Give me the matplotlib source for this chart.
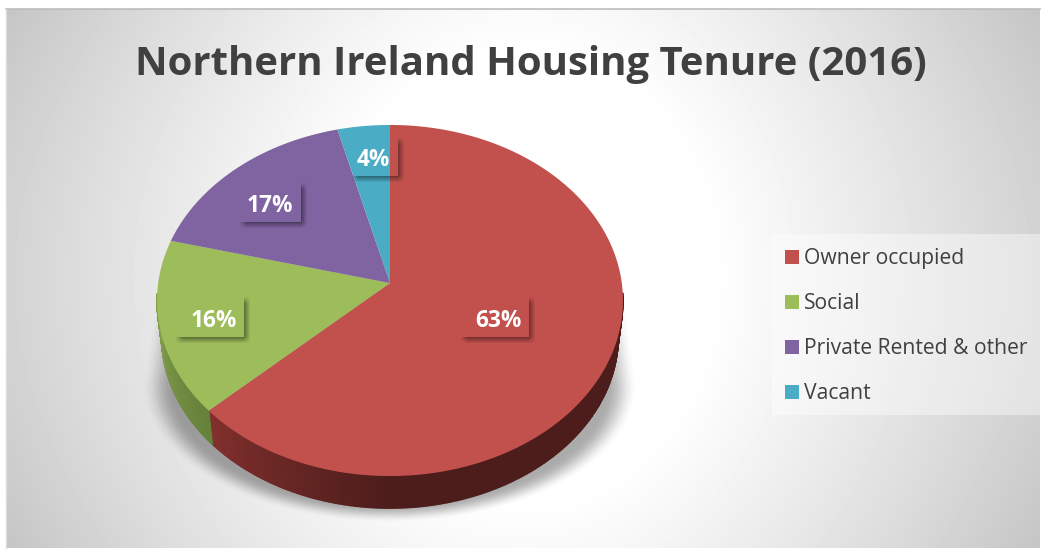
import numpy as np
import matplotlib
matplotlib.use('Agg')
import matplotlib.pyplot as plt
from matplotlib.collections import PolyCollection

# data
categories = ['Owner occupied', 'Social', 'Private Rented & other', 'Vacant']
shares = [63, 16, 17, 4]
labels = ['63%', '16%', '17%', '4%']
colors = ['#c2514e', '#9dbc5a', '#8064a2', '#4bacc6']
side_light = ['#82302d', '#86a04c', '#5f4a7a', '#35808f']
side_dark = ['#4c1d1b', '#64803a', '#4a3a60', '#2a6a78']

W, H = 1046, 550
plt.rcParams['font.family'] = ['Open Sans', 'DejaVu Sans']

fig = plt.figure(figsize=(W / 100, H / 100), dpi=100)
ax = fig.add_axes([0, 0, 1, 1])
ax.axis('off')

# background gradient
yy, xx = np.mgrid[0:H, 0:W] + 0.5
dx = np.abs(xx - 523)
dy = np.abs(yy - 278)
r = np.hypot(dx, dy * 0.85)
g = np.clip((r - 190) / 327, 0, None) * 0.76 + 0.13 * (dx / 517 * dy / 270) ** 2
grey = np.full((H, W), 255.0)
inside = (xx > 6) & (xx < 1040) & (yy > 9) & (yy < 548)
grey[inside] = (255 - 58 * np.clip(g, 0, 1))[inside]
ax.imshow(grey, cmap='gray', vmin=0, vmax=255, extent=(0, W, H, 0), zorder=0, aspect='auto')
ax.plot([6, 1040], [8.5, 8.5], color='#bcbcbc', lw=1.2, zorder=1)
ax.plot([5.5, 5.5], [9, 548], color='#dcdcdc', lw=1, zorder=1)

# soft shadow under the pie
hw = 248 - np.clip(385 - yy, 0, None) * 0.14
d = np.where(yy < 385, np.abs(xx - 390) / hw, np.hypot((xx - 390) / 248, (yy - 385) / 138))
a = np.clip((1.0 - d) / 0.13, 0, 1)
a = a * a * (3 - 2 * a) * np.clip((yy - 230) / 70, 0, 1)
a[yy > 522] = 0
shadow = np.zeros((H, W, 4))
shadow[..., 3] = a * 0.33
ax.imshow(shadow, extent=(0, W, H, 0), zorder=2, aspect='auto')

# tilted disc: perspective projection of a circle
cx, cy, A, B, k = 390, 283, 231.8, 173.8, 0.0997


def top_xy(t):
    u, v = np.sin(t), -np.cos(t)
    w = 1 - k * v
    return cx + A * u / w, cy + B * v / w


def bottom_xy(t):
    x, y = top_xy(t)
    return cx + (x - cx) * 0.98, cy + (y - cy) * 0.98 + 36


edges = np.cumsum([0] + shares) / sum(shares) * 2 * np.pi

# side wall
for i in range(len(shares)):
    t = np.linspace(edges[i], edges[i + 1], 300)
    polys, cols = [], []
    c1 = np.array(matplotlib.colors.to_rgb(side_light[i]))
    c2 = np.array(matplotlib.colors.to_rgb(side_dark[i]))
    for t0, t1 in zip(t[:-1], t[1:]):
        tm = (t0 + t1) / 2
        if not (np.pi * 0.52 < tm < np.pi * 1.48):
            continue
        x0, y0 = top_xy(t0)
        x1, y1 = top_xy(t1)
        x2, y2 = bottom_xy(t1)
        x3, y3 = bottom_xy(t0)
        polys.append([(x0, y0), (x1, y1), (x2, y2), (x3, y3)])
        if i == 0:
            f = np.clip((edges[1] - tm) / (np.pi * 0.26), 0, 1)
        else:
            f = 1 - np.clip((tm - edges[i]) / (np.pi * 1.48 - edges[i]), 0, 1)
        cols.append(c1 + (c2 - c1) * f)
    if polys:
        ax.add_collection(PolyCollection(polys, facecolors=cols, edgecolors=cols, linewidths=1.0, zorder=3))

# top faces
for i in range(len(shares)):
    t = np.linspace(edges[i], edges[i + 1], 200)
    x, y = top_xy(t)
    ax.fill(np.r_[cx, x], np.r_[cy, y], color=colors[i], lw=0, zorder=4)

# data labels, transparent boxes with a soft shadow
boxes = [(461, 297, 529, 337), (176, 297, 244, 337), (240, 183, 301, 222), (352, 138, 398, 176)]
label_xy = [(498, 318), (213.5, 318), (270, 203), (373, 157)]
sh = np.zeros((H, W))
for x0, y0, x1, y1 in boxes:
    off = 3
    s = 3.5
    m = (np.clip((xx - x0 - off + s) / (2 * s), 0, 1) * np.clip((x1 + off + s - xx) / (2 * s), 0, 1)
         * np.clip((yy - y0 - off + s) / (2 * s), 0, 1) * np.clip((y1 + off + s - yy) / (2 * s), 0, 1))
    m[(xx > x0) & (xx < x1) & (yy > y0) & (yy < y1)] = 0
    sh = np.maximum(sh, m)
ov = np.zeros((H, W, 4))
ov[..., 3] = sh * 0.45
ax.imshow(ov, extent=(0, W, H, 0), zorder=5, aspect='auto')
for (x, y), lab in zip(label_xy, labels):
    ax.text(x, y, lab, color='white', fontsize=16.3, fontweight='bold',
            ha='center', va='center_baseline', zorder=6)

# title
ax.text(531, 60, 'Northern Ireland Housing Tenure (2016)', color='#404040', fontsize=28.9,
        fontweight='bold', ha='center', va='center_baseline', zorder=6)

# legend
ax.fill([772, 1040, 1040, 772], [234, 234, 415, 415], color='white', alpha=0.42, lw=0, zorder=2)
for i, name in enumerate(categories):
    y = 256 + i * 45
    ax.fill([785, 799, 799, 785], [y - 6, y - 6, y + 8, y + 8], color=colors[i], lw=0, zorder=4)
    ax.text(804, y, name, color='#404040', fontsize=15.2, ha='left', va='center_baseline', zorder=6)

ax.set_xlim(0, W)
ax.set_ylim(H, 0)
fig.savefig('out.png', dpi=100, facecolor='white')
